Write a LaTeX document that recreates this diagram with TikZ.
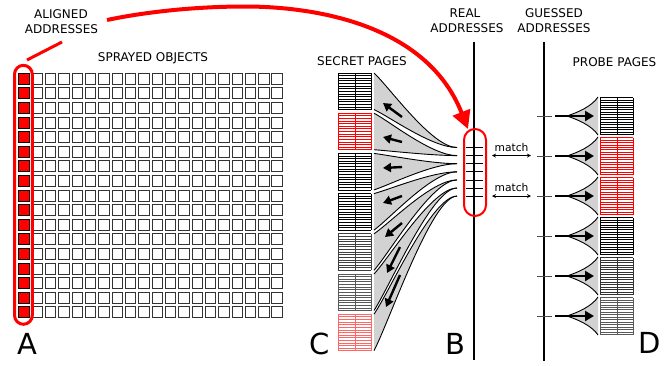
\documentclass[tikz,border=0pt]{standalone}
\usepackage{fontspec}
\setmainfont{DejaVu Sans}
\usetikzlibrary{arrows.meta}
\begin{document}
\begin{tikzpicture}[x=1pt,y=-1pt,
  lbl/.style={inner sep=0pt, font=\fontsize{12}{14}\selectfont},
  big/.style={inner sep=0pt, font=\fontsize{29}{32}\selectfont},
  matchlbl/.style={inner sep=0pt, font=\fontsize{10.7}{12}\selectfont},
  cell/.style={draw=black!80, line width=0.9pt, fill=white},
  redcell/.style={draw=black, line width=0.9pt, fill=red},
  redline/.style={draw=red, line width=3pt},
  fan/.style={fill=gray!35},
  fanedge/.style={draw=black, line width=0.9pt},
  leftarrow/.style={line width=2.4pt, -{Triangle[length=8pt,width=9pt]}},
  rightarrow/.style={line width=2.4pt, -{Triangle[length=9pt,width=10pt]}},
  matcharrow/.style={line width=0.7pt, {Stealth[length=4pt,width=4pt]}-{Stealth[length=4pt,width=4pt]}},
  tickline/.style={line width=0.8pt},
  axisline/.style={line width=2pt},
  pageline/.style={line width=0.7pt}]
\useasboundingbox (0,0) rectangle (672,365);

% ---------- A: sprayed objects grid ----------
\foreach \r in {0,...,16}{
  \pgfmathsetmacro\yy{73.3+14.59*\r}
  \draw[redcell] (18.5,\yy) rectangle ++(10.8,11);
  \foreach \c in {0,...,18}{
    \pgfmathsetmacro\xx{32+13.33*\c}
    \draw[cell] (\xx,\yy) rectangle ++(10.6,11);
  }
}
\node[draw=red, line width=3pt, rounded corners=9pt, minimum width=17.8pt,
      minimum height=259pt, inner sep=0pt] (abox) at (23.4,194.8) {};

\node[lbl] (al1) at (61,14.5) {ALIGNED};
\node[lbl] (al2) at (61.5,29.5) {ADDRESSES};
\node[lbl] (spr) at (153,58.5) {SPRAYED OBJECTS};
\node[lbl] (sec) at (362,61) {SECRET PAGES};
\node[lbl] (real1) at (465,13) {REAL};
\node[lbl] (real2) at (467,28.5) {ADDRESSES};
\node[lbl] (gue1) at (554,13) {GUESSED};
\node[lbl] (gue2) at (554,28.5) {ADDRESSES};
\node[lbl] (prb) at (614.5,62) {PROBE PAGES};
\node[big] (A) at (27.5,343.5) {A};
\node[big] (B) at (455.5,343.5) {B};
\node[big] (C) at (320,343.5) {C};
\node[big] (D) at (650,343) {D};

\coordinate (l1) at (27,60);
\coordinate (l2) at (62,42);
\draw[redline] (l1) -- (l2);

% ---------- big red arrow ----------
\coordinate (cs) at (107,20);
\coordinate (cm) at (245,6.5);
\coordinate (ce) at (468,129);
\draw[red, line width=4pt, -{Triangle[length=18pt,width=18pt]}]
  (cs) .. controls (150,11) and (200,6.5) .. (cm)
       .. controls (305,6.5) and (425,20) .. (ce);

% ---------- axes ----------
\coordinate (Btop) at (474,42);
\coordinate (Bbot) at (474,360);
\coordinate (Gtop) at (544,42);
\coordinate (Gbot) at (544,361);
\draw[axisline] (Btop) -- (Bbot);
\draw[axisline] (Gtop) -- (Gbot);

\foreach \k in {0,...,6}{
  \pgfmathsetmacro\ty{147.5+8.1*\k}
  \draw[tickline] (466,\ty) -- (483,\ty);
}
\node[draw=red, line width=2pt, rounded corners=11pt, minimum width=22pt,
      minimum height=87pt, inner sep=0pt] (ring) at (475,172.5) {};

% ---------- match arrows ----------
\coordinate (m1a) at (492,155.6);
\coordinate (m1b) at (531,155.6);
\coordinate (m2a) at (492,196.1);
\coordinate (m2b) at (531,196.1);
\draw[matcharrow] (m1a) -- (m1b);
\draw[matcharrow] (m2a) -- (m2b);
\node[matchlbl] (mt1) at (511.5,147.5) {match};
\node[matchlbl] (mt2) at (511.5,188) {match};

% ---------- C: secret pages and fans ----------
\foreach \i/\col in {0/black,1/red,2/black,3/black,4/black!75,5/black!65,6/red!60}{
  \pgfmathsetmacro\pgt{73+40.2*\i}
  \pgfmathsetmacro\pgb{\pgt+36.5}
  \pgfmathsetmacro\pge{147.5+8.1*\i}
  \pgfmathsetmacro\pct{\pgt+0.2*(\pge-\pgt)}
  \pgfmathsetmacro\pcb{\pgb+0.2*(\pge-\pgb)}
  % fan
  \fill[fan] (374,\pgt) .. controls (390,\pct) and (432,\pge) .. (457,\pge)
             .. controls (432,\pge) and (390,\pcb) .. (374,\pgb) -- cycle;
  \draw[fanedge] (374,\pgt) .. controls (390,\pct) and (432,\pge) .. (457,\pge);
  \draw[fanedge] (374,\pgb) .. controls (390,\pcb) and (432,\pge) .. (457,\pge);
  % page
  \foreach \h in {0,...,14}{
    \draw[\col, pageline] (338,{\pgt+36.5*\h/14}) -- (371,{\pgt+36.5*\h/14});
  }
  \draw[\col, pageline] (338,\pgt) -- (338,\pgb);
  \draw[\col, pageline] (355,\pgt) -- (355,\pgb);
  \draw[\col, pageline] (371,\pgt) -- (371,\pgb);
}

\foreach \n/\tx/\ty/\hx/\hy in {1/402/117/383/103, 2/402/142/383/137,
    3/402/167/383/168, 4/402/196/383/203, 5/402/223/385/237,
    6/400/247/387/273, 7/400/275/386/307}{
  \coordinate (ct\n) at (\tx,\ty);
  \coordinate (ch\n) at (\hx,\hy);
  \draw[leftarrow] (ct\n) -- (ch\n);
}

% ---------- D: probe pages and fans ----------
\foreach \j/\col in {0/black,1/red,2/red,3/black,4/black!80,5/black!65}{
  \pgfmathsetmacro\gg{116+40*\j}
  \draw[tickline, black!70] (537,\gg) -- (552,\gg);
  \fill[fan] (567,\gg) .. controls (579,{\gg-4}) and (592,{\gg-10}) .. (598,{\gg-19})
             -- (598,{\gg+19}) .. controls (592,{\gg+10}) and (579,{\gg+4}) .. (567,\gg) -- cycle;
  \draw[fanedge] (598,{\gg-19}) .. controls (592,{\gg-10}) and (579,{\gg-4}) .. (567,\gg)
                 .. controls (579,{\gg+4}) and (592,{\gg+10}) .. (598,{\gg+19});
  \coordinate (gs\j) at (555,\gg);
  \coordinate (ge\j) at (594,\gg);
  \draw[rightarrow] (gs\j) -- (ge\j);
  \foreach \h in {0,...,15}{
    \draw[\col, pageline] (600,{\gg-18.5+37*\h/15}) -- (633,{\gg-18.5+37*\h/15});
  }
  \draw[\col, pageline] (600,{\gg-18.5}) -- (600,{\gg+18.5});
  \draw[\col, pageline] (617,{\gg-18.5}) -- (617,{\gg+18.5});
  \draw[\col, pageline] (633,{\gg-18.5}) -- (633,{\gg+18.5});
}
\end{tikzpicture}
\end{document}
